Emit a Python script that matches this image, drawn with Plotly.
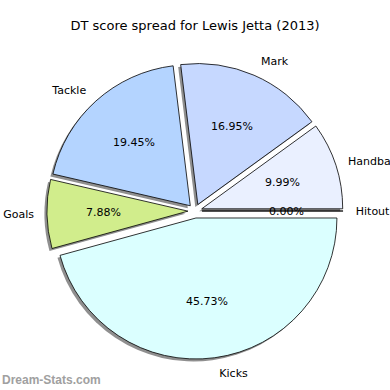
import numpy as np
import plotly.graph_objects as go

title = "DT score spread for Lewis Jetta (2013)"
categories = ["Hitout", "Handball", "Mark", "Tackle", "Goals", "Kicks"]
shares = [0.00, 9.99, 16.95, 19.45, 7.88, 45.73]
colors = ["#e6f0ff", "#eaf0ff", "#c6d8ff", "#b4d4ff", "#d1ed8c", "#dbffff"]
pulls = [0.05] * len(categories)

W = 390.0
R = 141.0  # pie radius in px
cx, cy = 195 / W, 179 / W


def dom(half, dx=0.0, dy=0.0):
    h = half / W
    return dict(x=[cx - h + dx / W, cx + h + dx / W], y=[cy - h + dy / W, cy + h + dy / W])


common = dict(labels=categories, values=shares, sort=False, direction="counterclockwise",
              rotation=90, pull=pulls, showlegend=False, hoverinfo="skip", automargin=False)
font = dict(family="DejaVu Sans", size=11, color="black")

fig = go.Figure()
# shadow
fig.add_trace(go.Pie(**common, marker=dict(colors=["#8f8f8f"] * 6, line=dict(width=0)),
                     textinfo="none", domain=dom(R * 1.05, -2.5, -2.5)))
# slices
fig.add_trace(go.Pie(**common, marker=dict(colors=colors, line=dict(color="black", width=0.8)),
                     textinfo="none", domain=dom(R * 1.05)))
# category labels
fig.add_trace(go.Pie(**common, marker=dict(colors=["rgba(0,0,0,0)"] * 6, line=dict(width=0)),
                     texttemplate="%{label}", textposition="outside", textfont=font,
                     domain=dom(157.5)))

# percentage labels at 0.6 r from each pulled slice's apex
vals = np.array(shares, dtype=float)
frac = vals / vals.sum()
mid = np.cumsum(frac) - frac / 2
theta = 2 * np.pi * mid
dist = (0.6 + np.array(pulls)) * R / W
annotations = [
    dict(text=f"{f * 100:.2f}%", x=cx + d * np.cos(t), y=cy + d * np.sin(t),
         xref="paper", yref="paper", xanchor="center", yanchor="middle",
         showarrow=False, font=font)
    for f, t, d in zip(frac, theta, dist)
]
annotations.append(dict(text="<b>Dream-Stats.com</b>", x=0, y=10 / W, xref="paper", yref="paper",
                        xanchor="left", yanchor="middle", showarrow=False,
                        font=dict(family="Liberation Sans", size=12, color="#a0a0a0")))

fig.update_layout(
    width=390, height=390, margin=dict(l=0, r=0, t=0, b=0, autoexpand=False),
    paper_bgcolor="white", plot_bgcolor="white",
    title=dict(text=title, x=0.5, xanchor="center", y=1 - 25 / W, yanchor="middle",
               font=dict(family="DejaVu Sans", size=13, color="black")),
    annotations=annotations,
)
fig.write_html("out.html", config={"displayModeBar": False},
               post_script="document.body.style.margin='0px';")
